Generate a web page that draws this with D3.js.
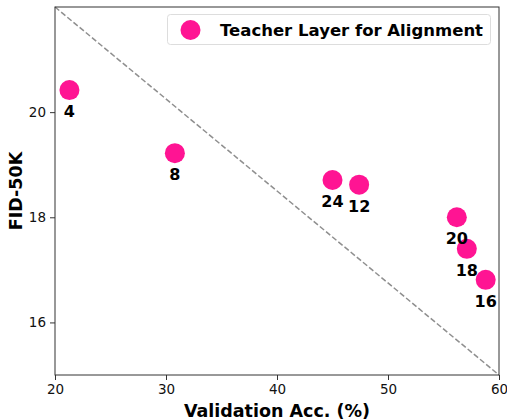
<!DOCTYPE html>
<html><head><meta charset="utf-8">
<script src="https://cdn.jsdelivr.net/npm/d3@7"></script>
<style>body{margin:0;background:#fff}text{font-family:"DejaVu Sans",sans-serif}</style>
</head><body>
<svg id="c" width="507" height="420"></svg>
<script>
const layers = ["4","8","24","12","20","18","16"];
const accuracy = [21.3, 30.8, 45.0, 47.4, 56.2, 57.1, 58.8];
const fid = [20.42, 19.22, 18.71, 18.62, 18.0, 17.40, 16.81];
const xTicks = [20,30,40,50,60];
const yTicks = [16,18,20];
const legendLabel = "Teacher Layer for Alignment";
const xLabel = "Validation Acc. (%)";
const yLabel = "FID-50K";

const svg = d3.select("#c");
const L=55,R=499,T=7,B=375;
const x = d3.scaleLinear().domain([20,60]).range([L,R]);
const y = d3.scaleLinear().domain([15,22]).range([B,T]);
const color = "#FF1493";

// diagonal
svg.append("line").attr("x1",x(20)).attr("y1",y(22)).attr("x2",x(60)).attr("y2",y(15))
  .attr("stroke","#8f8f8f").attr("stroke-width",1.5).attr("stroke-dasharray","5.5,2.5");

const xa = svg.append("g").attr("transform",`translate(0,${B})`).call(d3.axisBottom(x).tickValues(xTicks).tickFormat(d3.format("d")).tickSize(5).tickPadding(4));
const ya = svg.append("g").attr("transform",`translate(${L},0)`).call(d3.axisLeft(y).tickValues(yTicks).tickFormat(d3.format("d")).tickSize(5).tickPadding(4));
[xa,ya].forEach(a=>{a.select(".domain").remove();a.selectAll("text").attr("font-size",13.5).attr("font-family","DejaVu Sans").attr("fill","#111");a.selectAll("line").attr("stroke","#333");});

svg.append("rect").attr("x",L).attr("y",T).attr("width",R-L).attr("height",B-T).attr("fill","none").attr("stroke","#333").attr("stroke-width",1);

const data = layers.map((l,i)=>({l,a:accuracy[i],f:fid[i]}));
svg.selectAll("circle.p").data(data).join("circle").attr("class","p")
  .attr("cx",d=>x(d.a)).attr("cy",d=>y(d.f)).attr("r",10).attr("fill",color);
svg.selectAll("text.lab").data(data).join("text").attr("class","lab")
  .attr("x",d=>x(d.a)).attr("y",d=>y(d.f)+27).attr("text-anchor","middle")
  .attr("font-size",16).attr("font-weight","bold").text(d=>d.l);

// legend
svg.append("rect").attr("x",167.5).attr("y",14.5).attr("width",323).attr("height",30).attr("rx",3)
  .attr("fill","#fff").attr("fill-opacity",0.8).attr("stroke","#ddd");
svg.append("circle").attr("cx",190.5).attr("cy",30).attr("r",10).attr("fill",color);
svg.append("text").attr("x",220).attr("y",35.5).attr("font-size",16.5).attr("font-weight","bold").text(legendLabel);

svg.append("text").attr("x",(L+R)/2).attr("y",416.5).attr("text-anchor","middle").attr("font-size",17.5).attr("font-weight","bold").text(xLabel);
svg.append("text").attr("transform",`translate(21.5,${(T+B)/2}) rotate(-90)`).attr("text-anchor","middle").attr("font-size",17.5).attr("font-weight","bold").text(yLabel);
</script>
</body></html>
